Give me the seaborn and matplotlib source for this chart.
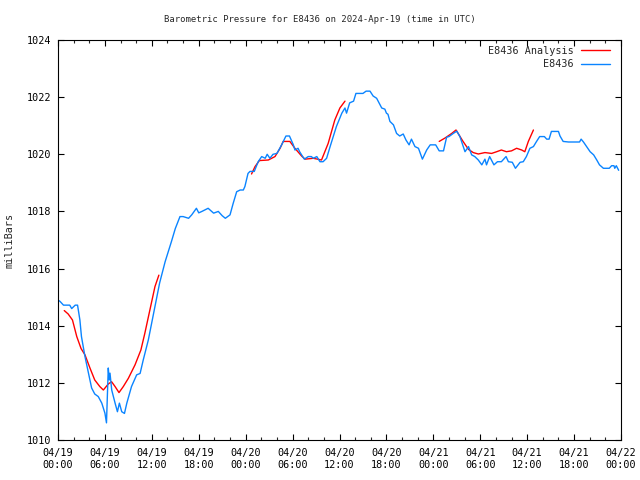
import numpy as np
import pandas as pd
import matplotlib
matplotlib.use("Agg")
import matplotlib.pyplot as plt
import seaborn as sns
from matplotlib.lines import Line2D
from matplotlib.ticker import MultipleLocator

# hours since 2024-04-19 00:00 UTC and observed pressure (mb)
obs_hours = [0.0, 0.26, 0.7, 1.5, 1.75, 2.2, 2.5, 2.8, 3.0, 3.45, 3.9, 4.3, 4.7, 5.15, 5.6,
             6.0, 6.2, 6.43, 6.55, 6.65, 6.87, 7.3, 7.6, 7.85, 8.15, 8.5, 8.8, 9.4, 10.06,
             10.5, 10.9, 11.55, 12.4, 13.0, 13.7, 14.5, 15.0, 15.6, 16.0, 16.7, 17.1, 17.7,
             18.0, 18.4, 19.2, 19.9, 20.5, 21.0, 21.4, 22.0, 22.4, 22.85, 23.3, 23.7, 23.9,
             24.3, 24.55, 25.1, 25.6, 26.05, 26.5, 26.75, 27.1, 27.5, 28.0, 28.6, 29.15,
             29.6, 30.1, 30.3, 30.7, 30.9, 31.5, 32.0, 32.4, 32.65, 33.1, 33.5, 33.9, 34.35,
             34.8, 35.6, 36.3, 36.7, 36.9, 37.3, 37.8, 38.1, 39.0, 39.4, 39.9, 40.3, 40.75,
             41.4, 41.8, 42.0, 42.2, 42.45, 42.9, 43.3, 43.7, 44.15, 44.5, 44.9, 45.2, 45.65,
             46.1, 46.6, 47.15, 47.6, 48.3, 48.75, 49.3, 49.7, 50.0, 50.55, 51.0, 51.4,
             52.05, 52.5, 52.9, 53.3, 53.75, 54.2, 54.6, 54.8, 55.2, 55.75, 56.2, 56.7,
             57.3, 57.6, 58.1, 58.5, 59.1, 59.5, 59.9, 60.35, 60.8, 61.2, 61.6, 62.2, 62.5,
             62.8, 63.1, 64.0, 64.2, 64.6, 65.3, 66.7, 66.9, 67.2, 67.6, 68.05, 68.5, 68.9,
             69.25, 69.75, 70.5, 70.8, 71.1, 71.2, 71.4, 71.7]
obs_mb = [1014.9, 1014.85, 1014.72, 1014.72, 1014.6, 1014.72, 1014.72, 1014.2, 1013.62,
          1012.92, 1012.34, 1011.82, 1011.61, 1011.52, 1011.29, 1010.94, 1010.6, 1012.52,
          1012.1, 1012.34, 1011.75, 1011.29, 1010.99, 1011.29, 1010.99, 1010.93, 1011.29,
          1011.87, 1012.28, 1012.33, 1012.8, 1013.5, 1014.67, 1015.5, 1016.24, 1016.94,
          1017.4, 1017.82, 1017.82, 1017.76, 1017.88, 1018.11, 1017.95, 1018.0, 1018.11,
          1017.94, 1018.0, 1017.85, 1017.76, 1017.88, 1018.28, 1018.69, 1018.75, 1018.75,
          1018.87, 1019.33, 1019.4, 1019.4, 1019.74, 1019.92, 1019.86, 1020.0, 1019.86,
          1020.0, 1020.03, 1020.33, 1020.64, 1020.64, 1020.33, 1020.15, 1020.21, 1020.09,
          1019.83, 1019.92, 1019.92, 1019.86, 1019.92, 1019.74, 1019.74, 1019.86, 1020.27,
          1020.97, 1021.44, 1021.62, 1021.44, 1021.8, 1021.86, 1022.13, 1022.13, 1022.21,
          1022.21, 1022.04, 1021.96, 1021.62, 1021.58, 1021.44, 1021.4, 1021.15, 1021.03,
          1020.73, 1020.64, 1020.71, 1020.5, 1020.33, 1020.53, 1020.27, 1020.21, 1019.83,
          1020.15, 1020.33, 1020.33, 1020.12, 1020.12, 1020.6, 1020.62, 1020.73, 1020.81,
          1020.62, 1020.09, 1020.27, 1019.98, 1019.92, 1019.8, 1019.63, 1019.83, 1019.63,
          1019.92, 1019.63, 1019.74, 1019.74, 1019.92, 1019.74, 1019.72, 1019.51, 1019.72,
          1019.74, 1019.92, 1020.21, 1020.27, 1020.45, 1020.62, 1020.62, 1020.53, 1020.53,
          1020.8, 1020.8, 1020.64, 1020.45, 1020.43, 1020.43, 1020.53, 1020.43, 1020.27,
          1020.09, 1019.98, 1019.8, 1019.63, 1019.51, 1019.51, 1019.6, 1019.6, 1019.51,
          1019.6, 1019.44]

# analysis comes in three separate runs (gaps between them)
ana_hours = [0.8, 1.3, 1.85, 2.4, 2.95, 3.45, 4.1, 4.7, 5.35, 5.8, 6.43, 6.85, 7.3, 7.8,
             8.35, 9.0, 9.85, 10.6, 11.1, 11.75, 12.4, 12.9,
             24.75, 25.2, 25.75, 26.9, 27.75, 28.4, 28.8, 29.65, 30.3, 31.15, 31.6, 32.65,
             33.7, 34.55, 35.4, 36.05, 36.7,
             48.75, 49.5, 50.35, 50.9, 51.8, 52.5, 53.1, 53.75, 54.6, 55.45, 56.1, 56.7,
             57.35, 58.0, 58.65, 59.3, 59.7, 60.15, 60.8]
ana_mb = [1014.53, 1014.41, 1014.2, 1013.62, 1013.2, 1012.98, 1012.51, 1012.1, 1011.87,
          1011.75, 1011.96, 1012.04, 1011.87, 1011.66, 1011.87, 1012.16, 1012.63, 1013.15,
          1013.73, 1014.55, 1015.37, 1015.77,
          1019.31, 1019.57, 1019.78, 1019.8, 1019.92, 1020.21, 1020.45, 1020.45, 1020.21,
          1019.94, 1019.83, 1019.86, 1019.8, 1020.38, 1021.2, 1021.62, 1021.86,
          1020.45, 1020.57, 1020.73, 1020.85, 1020.45, 1020.17, 1020.06, 1020.01, 1020.06,
          1020.03, 1020.09, 1020.15, 1020.09, 1020.12, 1020.21, 1020.15, 1020.09, 1020.45,
          1020.85]
ana_run = [0] * 22 + [1] * 17 + [2] * 19

tick_labels = ["04/19\n00:00", "04/19\n06:00", "04/19\n12:00", "04/19\n18:00",
               "04/20\n00:00", "04/20\n06:00", "04/20\n12:00", "04/20\n18:00",
               "04/21\n00:00", "04/21\n06:00", "04/21\n12:00", "04/21\n18:00",
               "04/22\n00:00"]

RED = "#ff0000"
BLUE = "#0a84ff"

sns.set_style("ticks")
plt.rcParams["font.family"] = ["DejaVu Sans Mono"]

obs = pd.DataFrame({"hour": obs_hours, "mb": obs_mb})
ana = pd.DataFrame({"hour": ana_hours, "mb": ana_mb, "run": ana_run})

fig = plt.figure(figsize=(6.4, 4.8), dpi=100)
ax = fig.add_axes([58 / 640, 40 / 480, 563 / 640, 400 / 480])

sns.lineplot(data=ana, x="hour", y="mb", units="run", estimator=None,
             color=RED, lw=1.0, ax=ax, legend=False)
sns.lineplot(data=obs, x="hour", y="mb", color=BLUE, lw=1.0, ax=ax, legend=False)

ax.set_xlim(0, 72)
ax.set_ylim(1010, 1024)
ax.set_xticks(np.arange(0, 73, 6))
ax.set_xticklabels(tick_labels)
ax.xaxis.set_minor_locator(MultipleLocator(2))
ax.set_yticks(np.arange(1010, 1025, 2))

ax.tick_params(axis="both", which="major", direction="in", length=4, width=0.8,
               top=True, right=True, labelsize=7.3, colors="black")
ax.tick_params(axis="x", which="minor", direction="in", length=2.2, width=0.8,
               top=True, bottom=True)
ax.tick_params(axis="x", which="major", pad=6)
ax.tick_params(axis="y", which="major", pad=5)
for s in ax.spines.values():
    s.set_visible(True)
    s.set_color("black")
    s.set_linewidth(0.8)

ax.set_xlabel("")
ax.set_ylabel("milliBars", fontsize=7.3, labelpad=9)
# gnuplot centres the title on the whole canvas, not the plot box
fig.text(0.5, 1 - 19 / 480, "Barometric Pressure for E8436 on 2024-Apr-19 (time in UTC)",
         fontsize=6.4, ha="center", va="center")

handles = [Line2D([], [], color=RED, lw=1.0), Line2D([], [], color=BLUE, lw=1.0)]
ax.legend(handles, ["E8436 Analysis", "E8436"], loc="upper right",
          bbox_to_anchor=(1 - 7 / 563, 1 - 1.5 / 400), borderaxespad=0, frameon=False,
          markerfirst=False, fontsize=7.3, handlelength=2.9, handletextpad=0.7,
          labelspacing=0.35)

fig.savefig("out.png", dpi=100)
